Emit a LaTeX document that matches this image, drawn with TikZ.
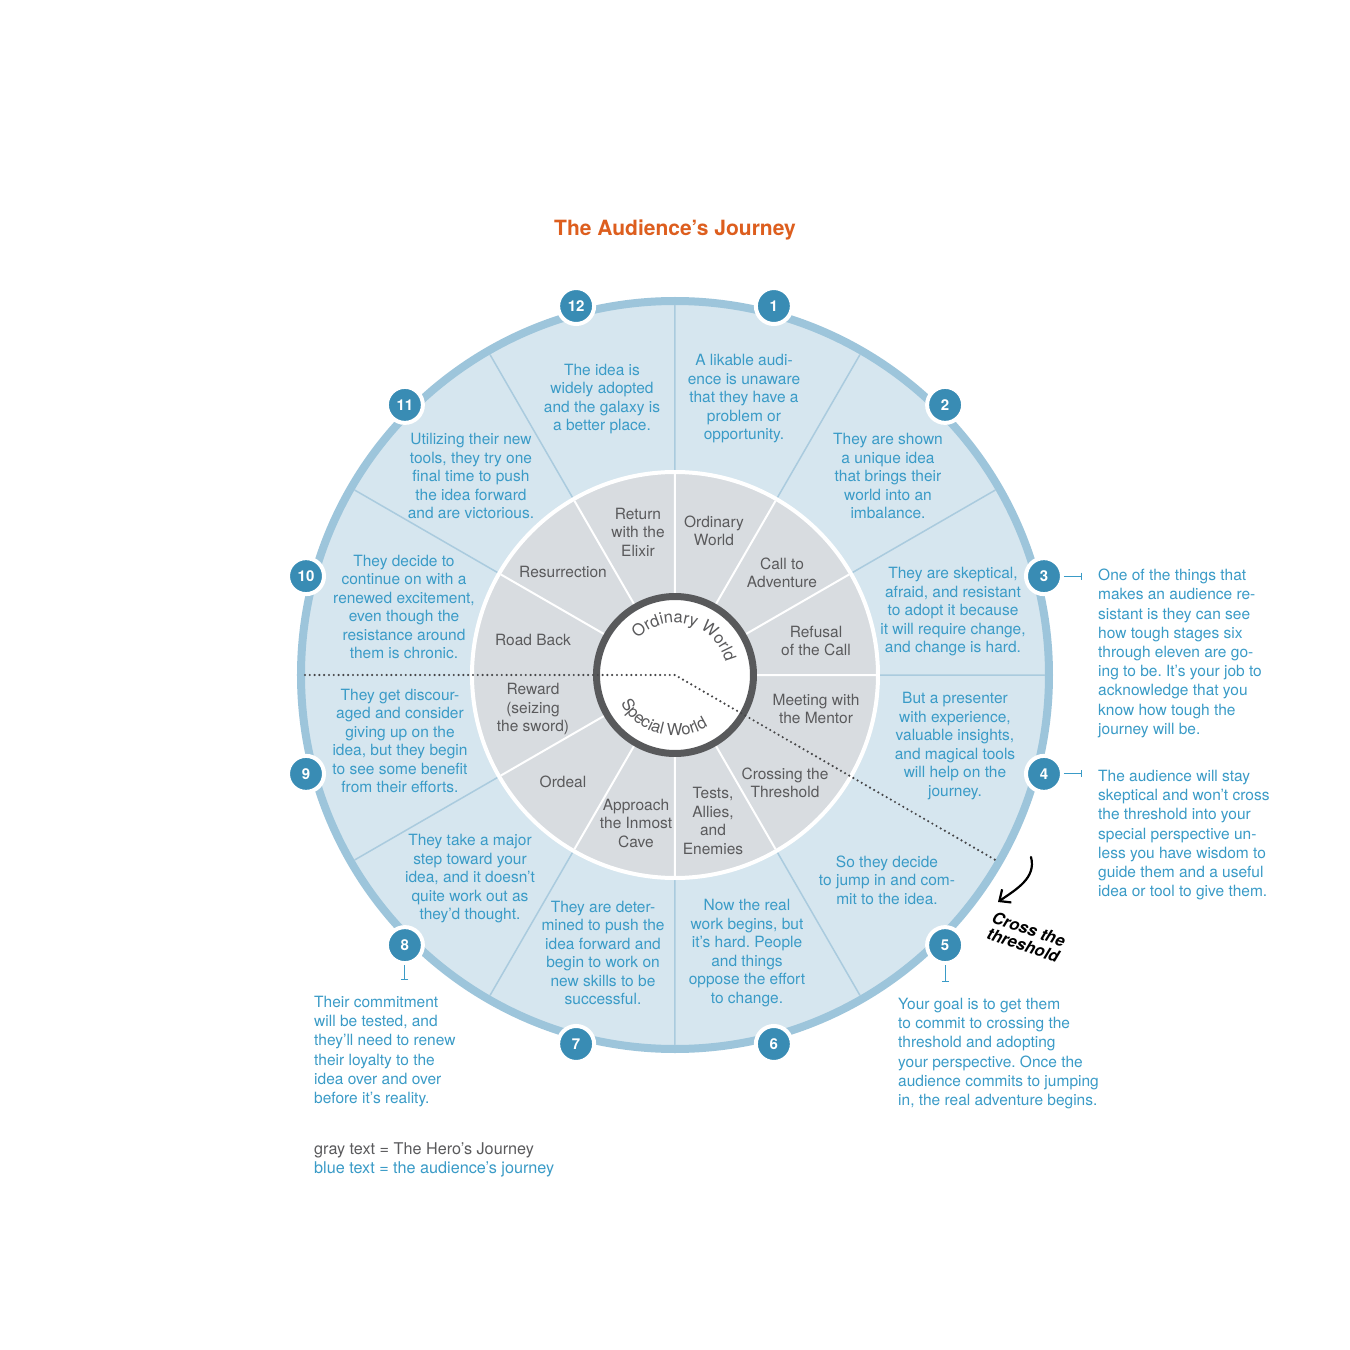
\documentclass[tikz,border=0pt]{standalone}
\usepackage{fontspec}
\setmainfont{TeX Gyre Heros}
\usetikzlibrary{arrows.meta,decorations.text}
\frenchspacing
\definecolor{ringblue}{RGB}{157,197,219}
\definecolor{discblue}{RGB}{214,230,239}
\definecolor{lineblue}{RGB}{170,203,222}
\definecolor{herogray}{RGB}{216,220,224}
\definecolor{ringgray}{RGB}{88,89,91}
\definecolor{dotgray}{RGB}{70,70,72}
\definecolor{textgray}{RGB}{90,90,92}
\definecolor{textblue}{RGB}{58,155,199}
\definecolor{badgeblue}{RGB}{57,140,180}
\definecolor{titleorange}{RGB}{221,94,30}
\begin{document}
\begin{tikzpicture}[x=1pt,y=1pt,
  audience/.style={text=textblue,align=center,inner sep=0pt,font=\fontsize{15.5}{18.5}\selectfont},
  hero/.style={text=textgray,align=center,inner sep=0pt,font=\fontsize{15.5}{18.5}\selectfont},
  badge/.style={circle,fill=badgeblue,draw=white,line width=4pt,minimum size=36pt,inner sep=0pt,text=white,font=\fontsize{15}{15}\selectfont\bfseries},
  note/.style={text=textblue,align=left,anchor=north west,inner sep=0pt,font=\fontsize{15.5}{19.2}\selectfont},
  notetick/.style={draw=textblue,line width=1pt,shorten >=16pt,-{Bar[width=7pt]}},
  dots/.style={draw=dotgray,line width=2.4pt,line cap=round,dash pattern=on 0pt off 4.8pt}]
\fill[white] (-675,-675) rectangle (675,675);
\useasboundingbox (-675,-675) rectangle (675,675);
\node[font=\fontsize{21}{21}\selectfont\bfseries,text=titleorange] (title) at (0,445) {The Audience’s Journey};
% wheel
\draw[ringblue,line width=8pt,fill=discblue] (0,0) circle[radius=374pt];
\draw[lineblue,line width=1.5pt] (90:203) -- (90:370) (60:203) -- (60:370) (30:203) -- (30:370)
  (0:203) -- (0:370) (-60:203) -- (-60:370) (-90:203) -- (-90:370) (-120:203) -- (-120:370)
  (-150:203) -- (-150:370) (150:203) -- (150:370) (120:203) -- (120:370);
\draw[white,line width=4pt,fill=herogray] (0,0) circle[radius=203pt];
\draw[white,line width=2pt] (90:78) -- (90:201) (60:78) -- (60:201) (30:78) -- (30:201)
  (0:78) -- (0:201) (-60:78) -- (-60:201) (-90:78) -- (-90:201) (-120:78) -- (-120:201)
  (-150:78) -- (-150:201) (150:78) -- (150:201) (120:78) -- (120:201);
\draw[ringgray,line width=7pt,fill=white] (0,0) circle[radius=78.5pt];
\path[decorate,decoration={text along path,text align=center,text color=textgray,
  text={|\fontsize{16.5}{16.5}\selectfont|Ordinary World}}] (168:52) arc[start angle=168,end angle=-18,radius=52pt];
\path[decorate,decoration={text along path,text align=center,text color=textgray,
  text={|\fontsize{16.5}{16.5}\selectfont|Special World}}] (178:61) arc[start angle=178,end angle=332,radius=61pt];
\coordinate (c) at (0,0);
\coordinate (w) at (180:370);
\coordinate (t) at (-30:370);
\draw[dots] (w) -- (c) -- (t);
% hero's journey
\node[hero] (h1) at (39,144) {Ordinary\\World};
\node[hero] (h2) at (107,102) {Call to\\Adventure};
\node[hero] (h3) at (141,34) {Refusal\\of the Call};
\node[hero] (h4) at (141,-34) {Meeting with\\the Mentor};
\node[hero] (h5) at (110,-108) {Crossing the\\Threshold};
\node[hero] (h6) at (38,-146) {Tests,\\Allies,\\and\\Enemies};
\node[hero] (h7) at (-39,-148) {Approach\\the Inmost\\Cave};
\node[hero] (h8) at (-112,-107) {Ordeal};
\node[hero] (h9) at (-142,-34) {Reward\\(seizing\\the sword)};
\node[hero] (h10) at (-142,35) {Road Back};
\node[hero] (h11) at (-112,103) {Resurrection};
\node[hero] (h12) at (-37,143) {Return\\with the\\Elixir};
% audience's journey
\node[audience] (a1) at (69,276) {A likable audi-\\ence is unaware\\that they have a\\problem or\\opportunity.};
\node[audience] (a2) at (213,199) {They are shown\\a unique idea\\that brings their\\world into an\\imbalance.};
\node[audience] (a3) at (278,63) {They are skeptical,\\afraid, and resistant\\to adopt it because\\it will require change,\\and change is hard.};
\node[audience] (a4) at (280,-71) {But a presenter\\with experience,\\valuable insights,\\and magical tools\\will help on the\\journey.};
\node[audience] (a5) at (212,-205) {So they decide\\to jump in and com-\\mit to the idea.};
\node[audience] (a6) at (72,-278) {Now the real\\work begins, but\\it’s hard. People\\and things\\oppose the effort\\to change.};
\node[audience] (a7) at (-72,-278) {They are deter-\\mined to push the\\idea forward and\\begin to work on\\new skills to be\\successful.};
\node[audience] (a8) at (-205,-204) {They take a major\\step toward your\\idea, and it doesn’t\\quite work out as\\they’d thought.};
\node[audience] (a9) at (-275,-66) {They get discour-\\aged and consider\\giving up on the\\idea, but they begin\\to see some benefit\\from their efforts.};
\node[audience] (a10) at (-271,68) {They decide to\\continue on with a\\renewed excitement,\\even though the\\resistance around\\them is chronic.};
\node[audience] (a11) at (-204,199) {Utilizing their new\\tools, they try one\\final time to push\\the idea forward\\and are victorious.};
\node[audience] (a12) at (-73,276) {The idea is\\widely adopted\\and the galaxy is\\a better place.};
% stage numbers
\node[badge] (b1) at (75:382) {1};
\node[badge] (b2) at (45:382) {2};
\node[badge] (b3) at (15:382) {3};
\node[badge] (b4) at (-15:382) {4};
\node[badge] (b5) at (-45:382) {5};
\node[badge] (b6) at (-75:382) {6};
\node[badge] (b7) at (-105:382) {7};
\node[badge] (b8) at (-135:382) {8};
\node[badge] (b9) at (-165:382) {9};
\node[badge] (b10) at (165:382) {10};
\node[badge] (b11) at (135:382) {11};
\node[badge] (b12) at (105:382) {12};
% notes
\node[note] (n3) at (423,106) {One of the things that\\makes an audience re-\\sistant is they can see\\how tough stages six\\through eleven are go-\\ing to be. It’s your job to\\acknowledge that you\\know how tough the\\journey will be.};
\node[note] (n4) at (423,-95) {The audience will stay\\skeptical and won’t cross\\the threshold into your\\special perspective un-\\less you have wisdom to\\guide them and a useful\\idea or tool to give them.};
\node[note] (n5) at (223,-323) {Your goal is to get them\\to commit to crossing the\\threshold and adopting\\your perspective. Once the\\audience commits to jumping\\in, the real adventure begins.};
\node[note] (n8) at (-361,-321) {Their commitment\\will be tested, and\\they’ll need to renew\\their loyalty to the\\idea over and over\\before it’s reality.};
\draw[notetick] (b3) -- (b3 -| n3.west);
\draw[notetick] (b4) -- (b4 -| n4.west);
\draw[notetick] (b5) -- (b5 |- n5.north);
\draw[notetick] (b8) -- (b8 |- n8.north);
% cross the threshold
\node[font=\fontsize{16.5}{17}\selectfont\bfseries\itshape,rotate=-19,align=center,inner sep=0pt] (cross) at (351,-262) {Cross the\\threshold};
\coordinate (p0) at (356,-182);
\coordinate (p1) at (323,-227);
\draw[line width=2.2pt,line cap=round,-{Straight Barb[length=9pt,width=16pt]}] (p0) to[out=-75,in=35] (p1);
% key
\node[note,text=textgray,font=\fontsize{16.2}{19.2}\selectfont] (key1) at (-361,-467) {gray text = The Hero’s Journey};
\node[note,font=\fontsize{16.2}{19.2}\selectfont] (key2) at (-361,-486) {blue text = the audience’s journey};
\end{tikzpicture}
\end{document}
